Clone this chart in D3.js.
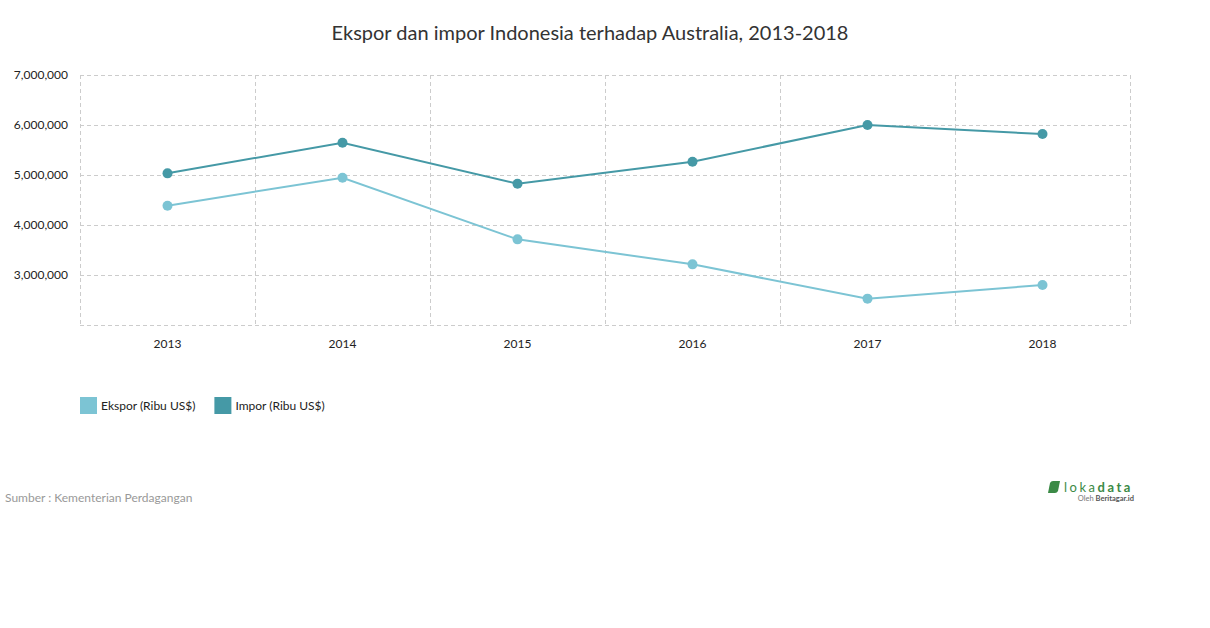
<!DOCTYPE html>
<html><head><meta charset="utf-8">
<script src="https://cdn.jsdelivr.net/npm/d3@7"></script>
<style>body{margin:0;background:#fff;font-family:Lato,"Open Sans",sans-serif;}</style>
</head><body><svg id="c" width="1210" height="628"></svg>
<script>
const categories = ["2013","2014","2015","2016","2017","2018"];
const seriesNames = ["Ekspor (Ribu US$)","Impor (Ribu US$)"];
const ekspor = [4386000, 4946000, 3713000, 3213000, 2527000, 2800000];
const impor = [5033000, 5646000, 4826000, 5266000, 6000000, 5820000];
const yTicks = [3000000, 4000000, 5000000, 6000000, 7000000];
const colors = ["#7cc4d4", "#4599a6"];

(function(){
const svg = d3.select("#c");
const W = 1210;
svg.append("rect").attr("width",W).attr("height",628).attr("fill","#fff");
svg.append("text").attr("x",590).attr("y",40).attr("text-anchor","middle")
  .attr("font-size",20).attr("fill","#333").text("Ekspor dan impor Indonesia terhadap Australia, 2013-2018");

const mL=80, mR=1130, mT=75, mB=325;
const x = d3.scaleBand().domain(categories).range([mL,mR]);
const y = d3.scaleLinear().domain([2000000,7000000]).range([mB,mT]);

const grid = svg.append("g");
[2000000].concat(yTicks).forEach(v=>{
  grid.append("line").attr("x1",mL).attr("x2",mR).attr("y1",y(v)+0.5).attr("y2",y(v)+0.5)
    .attr("stroke","#ccc").attr("stroke-dasharray","4,3");
});
const edges = categories.map(c=>x(c)).concat([mR]);
edges.forEach(e=>{
  grid.append("line").attr("x1",e+0.5).attr("x2",e+0.5).attr("y1",mT).attr("y2",mB)
    .attr("stroke","#ccc").attr("stroke-dasharray","4,3");
});

const yAxis = d3.axisLeft(y).tickValues(yTicks).tickSize(0).tickPadding(12).tickFormat(d3.format(","));
const ya = svg.append("g").attr("transform",`translate(${mL},0)`).call(yAxis);
ya.select(".domain").remove();
ya.selectAll("text").attr("font-family","Lato").attr("font-size",12).attr("fill","#222");

const xAxis = d3.axisBottom(x).tickSize(0).tickPadding(14);
const xa = svg.append("g").attr("transform",`translate(0,${mB})`).call(xAxis);
xa.select(".domain").remove();
xa.selectAll("text").attr("font-family","Lato").attr("font-size",12).attr("fill","#222");

const cx = c => x(c)+x.bandwidth()/2;
const line = d3.line().x((d,i)=>cx(categories[i])).y(d=>y(d));
[ekspor, impor].forEach((s,k)=>{
  svg.append("path").datum(s).attr("d",line).attr("fill","none").attr("stroke",colors[k]).attr("stroke-width",2);
  svg.selectAll(null).data(s).enter().append("circle")
    .attr("cx",(d,i)=>cx(categories[i])).attr("cy",d=>y(d)).attr("r",5).attr("fill",colors[k]);
});

const leg = svg.append("g");
let lx = 80;
seriesNames.forEach((n,k)=>{
  leg.append("rect").attr("x",lx).attr("y",397).attr("width",17).attr("height",17).attr("fill",colors[k]);
  const t = leg.append("text").attr("x",lx+21).attr("y",410).attr("font-size",12).attr("fill","#222").text(n);
  lx += 21 + t.node().getComputedTextLength() + 19;
});

svg.append("text").attr("x",5).attr("y",502).attr("font-size",12).attr("fill","#999").text("Sumber : Kementerian Perdagangan");

const lg = svg.append("g");
lg.append("path").attr("d","M1048,493 L1050,483 Q1051,481 1053,481 L1060,481 L1058,491 Q1057,493 1055,493 Z").attr("fill","#3b8a46");
lg.append("text").attr("x",1064).attr("y",492).attr("font-size",13).attr("fill","#3b8a46")
  .attr("letter-spacing","2.5").text("loka").append("tspan").attr("font-weight","bold").text("data");
lg.append("text").attr("x",1134).attr("y",501).attr("text-anchor","end").attr("font-size",7.5).attr("fill","#777")
  .text("Oleh ").append("tspan").attr("font-weight","bold").attr("fill","#555").text("Beritagar.id");
})();
</script></body></html>
